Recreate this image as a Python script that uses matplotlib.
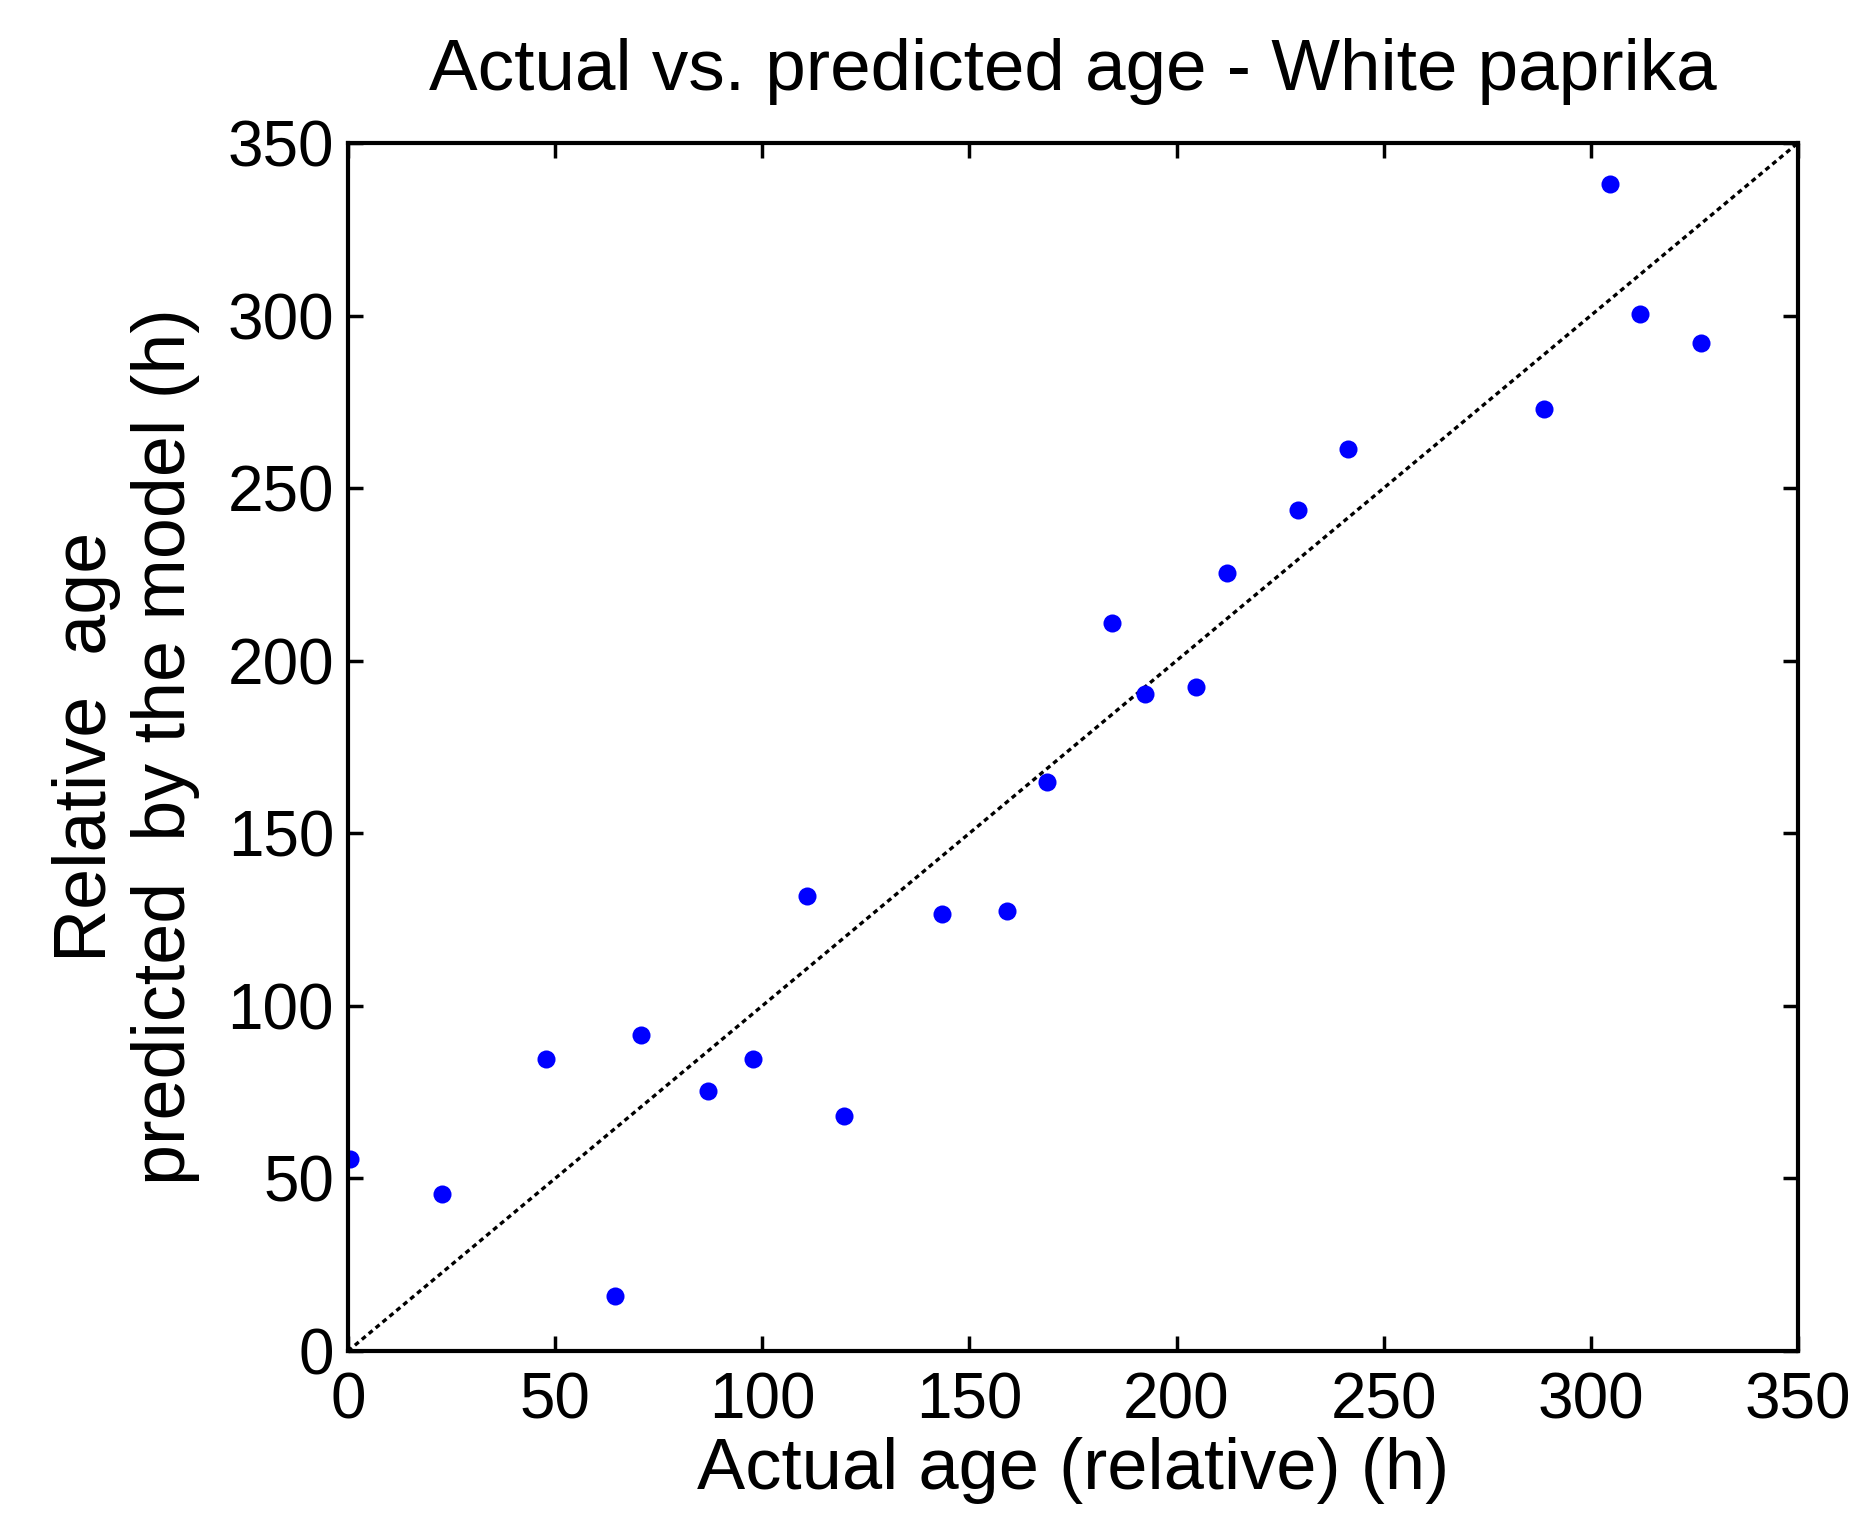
import numpy as np
import matplotlib
matplotlib.use("Agg")
import matplotlib.pyplot as plt

# Actual age (h) vs. age predicted by the model (h)
actual_age = [0.5, 22.6, 47.9, 64.4, 70.8, 87.0, 97.7, 110.8, 119.8, 143.5,
              159.0, 168.8, 184.4, 192.4, 204.8, 212.1, 229.4, 241.5,
              288.8, 304.7, 311.9, 326.6]
predicted_age = [55.6, 45.5, 84.6, 15.8, 91.6, 75.3, 84.6, 131.8, 68.1, 126.6,
                 127.6, 164.8, 210.8, 190.4, 192.5, 225.3, 243.7, 261.3,
                 272.8, 338.2, 300.4, 292.1]
ideal_line = [0, 350]
ticks = [0, 50, 100, 150, 200, 250, 300, 350]

plt.rcParams['font.family'] = ['Liberation Sans', 'DejaVu Sans']

fig = plt.figure(figsize=(18.74, 15.34), dpi=100)
ax = fig.add_axes([0.1857, 0.1193, 0.9594 - 0.1857, 0.9068 - 0.1193])

ax.plot(ideal_line, ideal_line, color='black', linestyle=(0, (1.5, 1.2)), linewidth=2.4)
ax.plot(actual_age, predicted_age, 'o', color='#0000ff', markersize=13, markeredgewidth=0)

ax.set_xlim(0, 350)
ax.set_ylim(0, 350)
ax.set_xticks(ticks)
ax.set_yticks(ticks)

for s in ax.spines.values():
    s.set_linewidth(3)

ax.tick_params(direction='in', length=11, width=2.5, labelsize=46,
               top=True, right=True)
ax.tick_params(axis='x', pad=15)
ax.tick_params(axis='y', pad=10)

ax.set_title("Actual vs. predicted age - White paprika", fontsize=52.5, pad=38)
ax.set_xlabel("Actual age (relative) (h)", fontsize=52, labelpad=4)
ax.set_ylabel("Relative  age\npredicted  by the model (h)", fontsize=53,
              labelpad=20, linespacing=1.18)

fig.savefig("out.png", dpi=100)
